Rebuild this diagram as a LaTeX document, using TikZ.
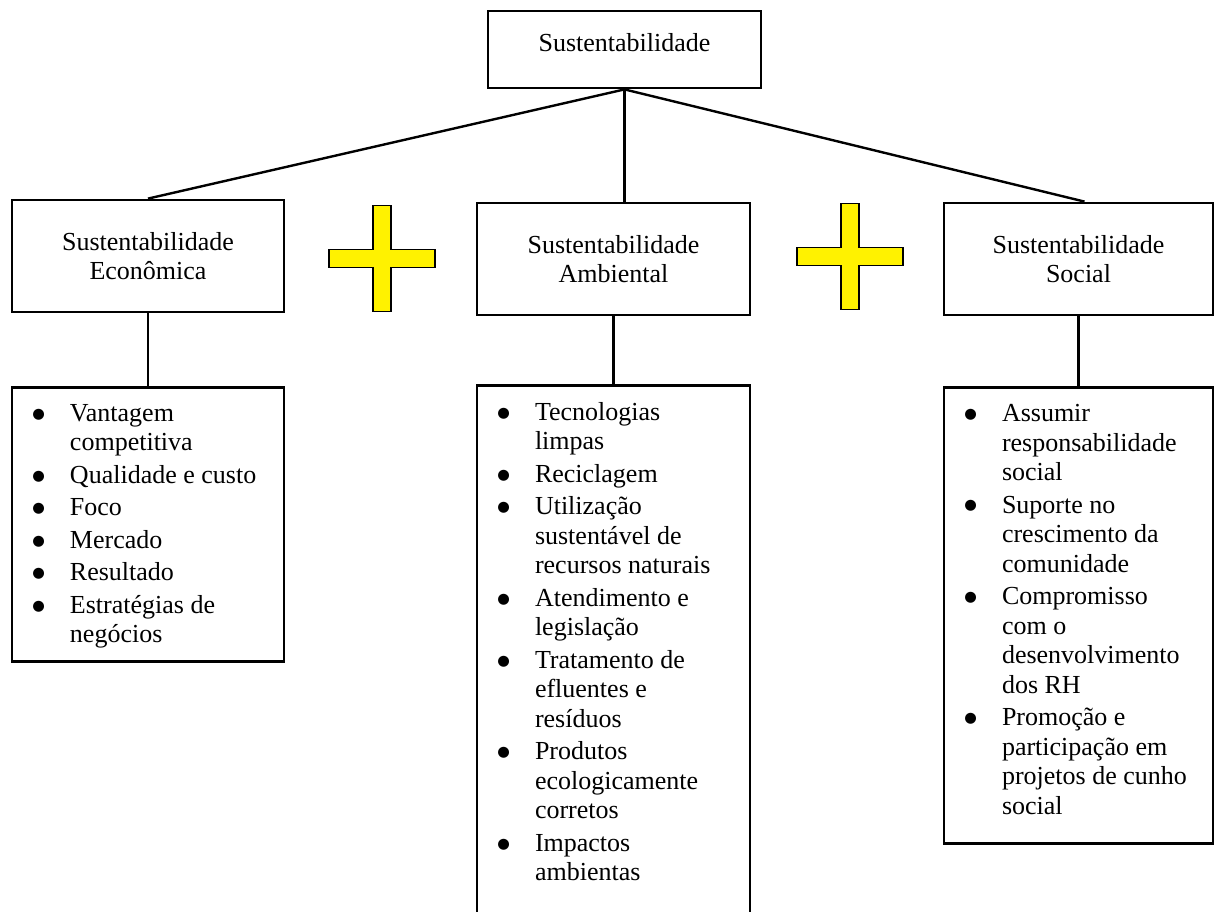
\documentclass[tikz,border=0pt]{standalone}
\usepackage{fontspec}
\setmainfont{Liberation Serif}
\newfontfamily\simbolo{DejaVu Sans}
\setlength{\parskip}{0pt}
\newcommand{\marca}{\raisebox{1.6pt}{\simbolo\fontsize{7.2}{8}\selectfont ●}}
\newcommand{\topicos}[3]{\parbox[c][#1][t]{#2}{\begin{list}{\marca}{%
  \setlength{\leftmargin}{26pt}\setlength{\labelwidth}{10pt}%
  \setlength{\labelsep}{12.5pt}\setlength{\itemsep}{1.5pt}%
  \setlength{\topsep}{0pt}\setlength{\partopsep}{0pt}%
  \setlength{\parsep}{0pt}\setlength{\itemindent}{0pt}}#3\end{list}}}
\newcommand{\mais}[2]{\draw[cruz, shift={(#1,#2)}] (-9,-53) -- (9,-53) -- (9,-9)
  -- (53,-9) -- (53,9) -- (9,9) -- (9,53) -- (-9,53) -- (-9,9) -- (-53,9)
  -- (-53,-9) -- (-9,-9) -- cycle;}

\begin{document}
\begin{tikzpicture}[x=0.5pt, y=-0.5pt, line width=1.2pt,
    caixa/.style={draw, line width=1.4pt, align=center, inner sep=0pt,
      font=\fontsize{13}{14.5}\selectfont},
    lista/.style={draw, line width=1.4pt, anchor=north, inner xsep=3pt,
      inner ysep=8.5pt, font=\fontsize{13}{14.75}\selectfont},
    cruz/.style={draw, fill=yellow, line width=0.8pt}]
  \clip (0,0) rectangle (1214,911);
  \node[caixa, minimum width=136.5pt, minimum height=38.5pt, text depth=7pt]
    (topo) at (624.5,49.5) {Sustentabilidade};
  \node[caixa, minimum width=136pt, minimum height=56pt]
    (eco) at (148,256) {Sustentabilidade\\Econômica};
  \node[caixa, minimum width=136.5pt, minimum height=56pt]
    (amb) at (613.5,259) {Sustentabilidade\\Ambiental};
  \node[caixa, minimum width=134.5pt, minimum height=56pt]
    (soc) at (1078.5,259) {Sustentabilidade\\Social};
  \mais{382}{258.5}
  \mais{850}{256.5}
  \node[lista] (leco) at (148,386) {\topicos{120pt}{130pt}{
      \item Vantagem\\competitiva
      \item Qualidade e custo
      \item Foco
      \item Mercado
      \item Resultado
      \item Estratégias de\\negócios}};
  \node[lista] (lamb) at (613.5,384) {\topicos{258pt}{130.5pt}{
      \item Tecnologias\\limpas
      \item Reciclagem
      \item Utilização\\sustentável de\\recursos naturais
      \item Atendimento e\\legislação
      \item Tratamento de\\efluentes e\\resíduos
      \item Produtos\\ecologicamente\\corretos
      \item Impactos\\ambientas}};
  \node[lista] (lsoc) at (1078.5,386) {\topicos{211pt}{128.5pt}{
      \item Assumir\\responsabilidade\\social
      \item Suporte no\\crescimento da\\comunidade
      \item Compromisso\\com o\\desenvolvimento\\dos RH
      \item Promoção e\\participação em\\projetos de cunho\\social}};
  \draw (topo.south) -- (eco.north);
  \draw (topo.south) -- (topo.south |- amb.north);
  \draw (topo.south) -- ([xshift=3pt]soc.north);
  \draw (eco.south) -- (leco.north);
  \draw (amb.south) -- (lamb.north);
  \draw (soc.south) -- (lsoc.north);
\end{tikzpicture}
\end{document}
